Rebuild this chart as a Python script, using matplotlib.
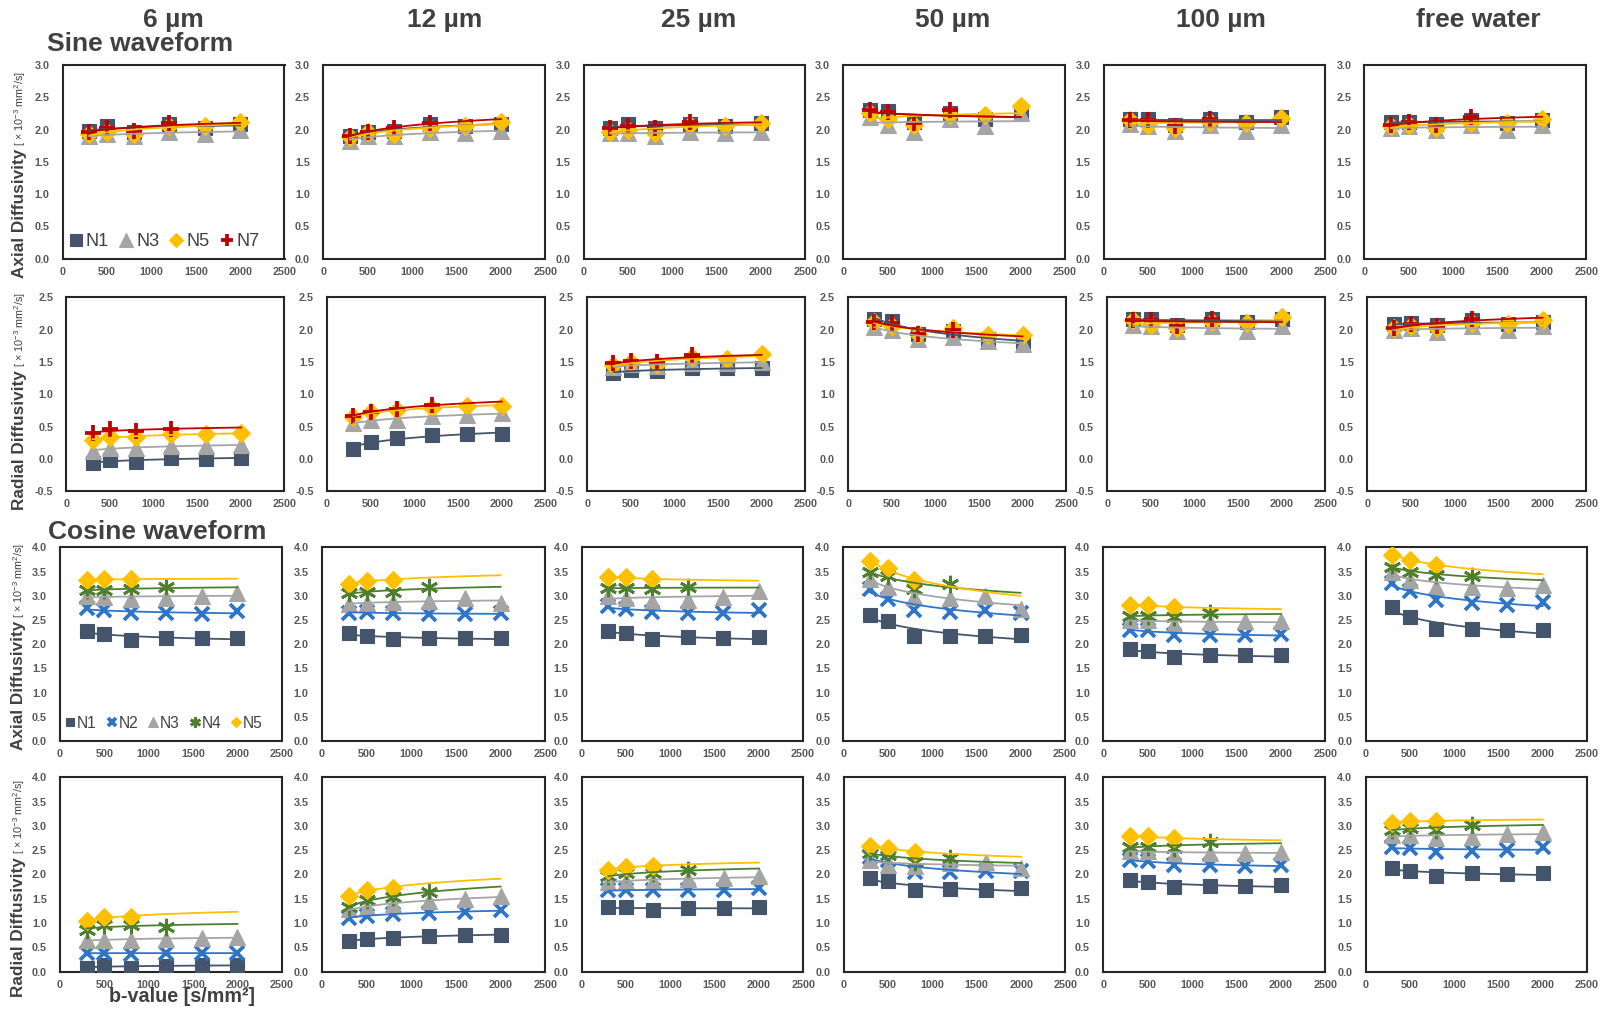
import numpy as np
import matplotlib
matplotlib.use("Agg")
import matplotlib.pyplot as plt

plt.rcParams['font.family'] = ['Liberation Sans', 'DejaVu Sans']
plt.rcParams['mathtext.default'] = 'regular'
plt.rcParams['axes.unicode_minus'] = False

# ---------------- data ----------------
columns = ["6 µm", "12 µm", "25 µm", "50 µm", "100 µm", "free water"]
b_values = [300, 500, 800, 1200, 1600, 2000]

# Sine waveform, axial diffusivity (one row per column: 6,12,25,50,100 µm, free water)
sine_axial_N1 = [[1.98, 2.05, 1.97, 2.08, 2.03, 2.08],
                 [1.90, 1.97, 1.98, 2.08, 2.05, 2.08],
                 [2.03, 2.08, 2.02, 2.08, 2.05, 2.10],
                 [2.30, 2.28, 2.12, 2.25, 2.17, 2.25],
                 [2.17, 2.17, 2.07, 2.17, 2.12, 2.19],
                 [2.12, 2.12, 2.08, 2.15, 2.10, 2.15]]
sine_axial_N3 = [[1.90, 1.93, 1.90, 1.97, 1.93, 2.00],
                 [1.83, 1.90, 1.90, 1.97, 1.95, 1.98],
                 [1.95, 1.95, 1.90, 1.97, 1.95, 1.97],
                 [2.20, 2.07, 1.97, 2.17, 2.05, 2.25],
                 [2.08, 2.05, 1.98, 2.07, 1.98, 2.07],
                 [2.02, 2.05, 2.00, 2.07, 2.00, 2.07]]
sine_axial_N5 = [[1.93, 1.97, 1.93, 2.05, 2.05, 2.12],
                 [1.88, 1.97, 1.93, 2.03, 2.05, 2.12],
                 [1.97, 2.00, 1.95, 2.07, 2.05, 2.10],
                 [2.25, 2.17, 2.07, 2.22, 2.22, 2.36],
                 [2.15, 2.07, 2.02, 2.12, 2.10, 2.18],
                 [2.05, 2.07, 2.02, 2.10, 2.10, 2.17]]
sine_axial_N7 = [[1.97, 2.02, 1.98, 2.10],
                 [1.90, 1.97, 2.02, 2.10],
                 [2.03, 2.05, 2.02, 2.12],
                 [2.30, 2.27, 2.10, 2.30],
                 [2.15, 2.15, 2.05, 2.17],
                 [2.07, 2.12, 2.07, 2.20]]

# Sine waveform, radial diffusivity
sine_radial_N1 = [[-0.06, -0.02, -0.04, 0.01, 0.00, 0.02],
                  [0.16, 0.27, 0.33, 0.37, 0.38, 0.38],
                  [1.33, 1.38, 1.36, 1.40, 1.40, 1.40],
                  [2.16, 2.14, 1.94, 1.98, 1.86, 1.81],
                  [2.17, 2.17, 2.07, 2.17, 2.12, 2.17],
                  [2.08, 2.10, 2.07, 2.15, 2.08, 2.12]]
sine_radial_N3 = [[0.13, 0.17, 0.17, 0.20, 0.20, 0.22],
                  [0.55, 0.60, 0.61, 0.66, 0.68, 0.71],
                  [1.42, 1.47, 1.43, 1.49, 1.48, 1.50],
                  [2.04, 1.99, 1.86, 1.88, 1.83, 1.78],
                  [2.07, 2.05, 1.98, 2.05, 1.98, 2.05],
                  [2.00, 2.02, 1.97, 2.05, 2.00, 2.05]]
sine_radial_N5 = [[0.30, 0.34, 0.34, 0.38, 0.38, 0.40],
                  [0.65, 0.72, 0.76, 0.79, 0.82, 0.82],
                  [1.45, 1.50, 1.47, 1.57, 1.55, 1.62],
                  [2.12, 2.05, 1.94, 2.02, 1.92, 1.92],
                  [2.15, 2.07, 2.02, 2.12, 2.10, 2.20],
                  [2.02, 2.05, 2.02, 2.10, 2.08, 2.15]]
sine_radial_N7 = [[0.40, 0.46, 0.43, 0.47],
                  [0.67, 0.73, 0.78, 0.83],
                  [1.48, 1.52, 1.50, 1.60],
                  [2.12, 2.10, 1.94, 1.99],
                  [2.15, 2.15, 2.05, 2.17],
                  [2.02, 2.08, 2.05, 2.17]]

# Cosine waveform, axial diffusivity
cos_axial_N1 = [[2.27, 2.21, 2.09, 2.13, 2.13, 2.13],
                [2.22, 2.17, 2.10, 2.12, 2.12, 2.13],
                [2.28, 2.24, 2.10, 2.14, 2.12, 2.14],
                [2.60, 2.48, 2.17, 2.17, 2.17, 2.19],
                [1.90, 1.86, 1.74, 1.77, 1.77, 1.77],
                [2.76, 2.56, 2.32, 2.32, 2.29, 2.29]]
cos_axial_N2 = [[2.74, 2.70, 2.64, 2.64, 2.62, 2.69],
                [2.65, 2.67, 2.64, 2.62, 2.62, 2.64],
                [2.78, 2.72, 2.66, 2.64, 2.64, 2.70],
                [3.14, 2.93, 2.71, 2.66, 2.71, 2.64],
                [2.30, 2.30, 2.19, 2.19, 2.19, 2.21],
                [3.26, 3.09, 2.92, 2.85, 2.81, 2.88]]
cos_axial_N3 = [[3.00, 2.98, 2.93, 2.95, 3.00, 3.05],
                [2.83, 2.84, 2.88, 2.90, 2.95, 2.84],
                [2.99, 2.95, 2.90, 2.92, 2.97, 3.10],
                [3.34, 3.18, 2.97, 2.95, 3.00, 2.72],
                [2.50, 2.50, 2.42, 2.45, 2.47, 2.47],
                [3.50, 3.33, 3.18, 3.18, 3.16, 3.23]]
cos_axial_N4 = [[3.12, 3.12, 3.13, 3.17],
                [3.05, 3.08, 3.08, 3.17],
                [3.16, 3.16, 3.14, 3.18],
                [3.50, 3.41, 3.14, 3.25],
                [2.59, 2.59, 2.56, 2.64],
                [3.60, 3.50, 3.43, 3.41]]
cos_axial_N5 = [[3.33, 3.34, 3.34],
                [3.24, 3.31, 3.33],
                [3.38, 3.38, 3.34],
                [3.71, 3.57, 3.33],
                [2.81, 2.81, 2.76],
                [3.85, 3.74, 3.64]]

# Cosine waveform, radial diffusivity
cos_radial_N1 = [[0.08, 0.13, 0.08, 0.11, 0.13, 0.13],
                 [0.63, 0.66, 0.70, 0.73, 0.75, 0.75],
                 [1.32, 1.32, 1.27, 1.30, 1.30, 1.32],
                 [1.92, 1.87, 1.68, 1.69, 1.68, 1.72],
                 [1.89, 1.85, 1.75, 1.76, 1.76, 1.78],
                 [2.13, 2.08, 1.96, 2.02, 2.01, 2.02]]
cos_radial_N2 = [[0.38, 0.38, 0.37, 0.38, 0.38, 0.38],
                 [1.11, 1.15, 1.18, 1.21, 1.23, 1.26],
                 [1.67, 1.68, 1.67, 1.68, 1.68, 1.72],
                 [2.35, 2.30, 2.04, 2.04, 2.06, 2.08],
                 [2.30, 2.28, 2.20, 2.20, 2.17, 2.20],
                 [2.57, 2.54, 2.47, 2.49, 2.50, 2.56]]
cos_radial_N3 = [[0.65, 0.65, 0.65, 0.66, 0.70, 0.71],
                 [1.28, 1.33, 1.39, 1.46, 1.50, 1.55],
                 [1.85, 1.87, 1.87, 1.90, 1.92, 1.97],
                 [2.30, 2.20, 2.17, 2.23, 2.26, 2.13],
                 [2.49, 2.49, 2.40, 2.44, 2.45, 2.47],
                 [2.81, 2.81, 2.74, 2.78, 2.83, 2.88]]
cos_radial_N4 = [[0.85, 0.96, 0.96, 0.92],
                 [1.33, 1.47, 1.54, 1.64],
                 [1.96, 2.02, 2.02, 2.09],
                 [2.44, 2.40, 2.26, 2.33],
                 [2.57, 2.57, 2.54, 2.66],
                 [2.92, 2.95, 2.92, 3.02]]
cos_radial_N5 = [[1.04, 1.13, 1.13],
                 [1.55, 1.68, 1.73],
                 [2.10, 2.16, 2.17],
                 [2.59, 2.54, 2.47],
                 [2.79, 2.79, 2.74],
                 [3.06, 3.11, 3.09]]

x_ticks = [0, 500, 1000, 1500, 2000, 2500]
row_yticks = [np.arange(0, 3.01, 0.5), np.arange(-0.5, 2.51, 0.5),
              np.arange(0, 4.01, 0.5), np.arange(0, 4.01, 0.5)]

# ---------------- styles ----------------
STY = {
    'N1': dict(marker='s', color='#44546A', ms=10, mew=0.8),
    'N2': dict(marker='x', color='#2E75C8', ms=10, mew=2.7),
    'N3': dict(marker='^', color='#A5A5A5', ms=12, mew=0.8),
    'N4': dict(marker=(6, 2, 0), color='#4E7F2E', ms=12.5, mew=2.0),
    'N5': dict(marker='D', color='#FFC000', ms=9, mew=0.8),
    'N7': dict(marker='+', color='#C00000', ms=11.5, mew=2.7),
}
TXT = '#404040'
TICK = '#595959'

W, H = 1608, 1015
fig = plt.figure(figsize=(W / 100, H / 100), dpi=100)

row_tb = [(65, 258.7), (297.3, 491.3), (547.3, 741), (777.3, 971.5)]
row_lr = [
    [(62.8, 284.5), (323.3, 545.4), (583.7, 805.2), (843.4, 1065.1), (1103.7, 1325.5), (1364.5, 1586.5)],
    [(66.4, 284.5), (327.1, 545.4), (587.2, 805.2), (848.2, 1066.2), (1107.2, 1325.5), (1367.2, 1586.5)],
    [(60, 281.8), (321.8, 545.4), (581.7, 802.7), (843.4, 1064.8), (1103.3, 1325.3), (1365.6, 1587)],
    [(60, 281.8), (321.8, 545.4), (581.7, 803.4), (843.7, 1065.5), (1103.3, 1325.3), (1365.6, 1587)],
]

rows = [
    [('N1', sine_axial_N1), ('N3', sine_axial_N3), ('N5', sine_axial_N5), ('N7', sine_axial_N7)],
    [('N1', sine_radial_N1), ('N3', sine_radial_N3), ('N5', sine_radial_N5), ('N7', sine_radial_N7)],
    [('N1', cos_axial_N1), ('N2', cos_axial_N2), ('N3', cos_axial_N3), ('N4', cos_axial_N4), ('N5', cos_axial_N5)],
    [('N1', cos_radial_N1), ('N2', cos_radial_N2), ('N3', cos_radial_N3), ('N4', cos_radial_N4), ('N5', cos_radial_N5)],
]

axes_grid = []
for r in range(4):
    t, b = row_tb[r]
    yt = row_yticks[r]
    row_axes = []
    for c in range(6):
        l, rr = row_lr[r][c]
        ax = fig.add_axes([l / W, 1 - b / H, (rr - l) / W, (b - t) / H])
        for name, arr in rows[r]:
            st = STY[name]
            y = np.array(arr[c], dtype=float)
            x = np.array(b_values[:len(y)], dtype=float)
            ax.plot(x, y, ls='none', marker=st['marker'], ms=st['ms'], mew=st['mew'],
                    mfc=st['color'], mec=st['color'], label=name, zorder=3)
        for name, arr in rows[r]:
            st = STY[name]
            y = np.array(arr[c], dtype=float)
            x = np.array(b_values[:len(y)], dtype=float)
            a1, a0 = np.polyfit(np.log(x), y, 1)
            xf = np.linspace(b_values[0], b_values[-1], 120)
            ax.plot(xf, a1 * np.log(xf) + a0, color=st['color'], lw=1.3, zorder=4)
        ax.set_xlim(0, 2500)
        ax.set_ylim(yt[0], yt[-1])
        ax.set_xticks(x_ticks)
        ax.set_xticklabels([str(v) for v in x_ticks])
        ax.set_yticks(yt)
        ax.set_yticklabels(['%.1f' % v for v in yt])
        ax.tick_params(length=0, labelsize=7.8, labelcolor=TICK)
        ax.tick_params(axis='y', pad=9.5)
        ax.tick_params(axis='x', pad=5.8)
        for lab in ax.get_xticklabels() + ax.get_yticklabels():
            lab.set_fontweight('bold')
        for sp in ax.spines.values():
            sp.set_linewidth(1.5)
            sp.set_color('#262626')
        row_axes.append(ax)
    axes_grid.append(row_axes)

# legends
leg = axes_grid[0][0].legend(loc='center left', bbox_to_anchor=(0.034, 0.088), ncol=4,
                             frameon=False, fontsize=13.1, handlelength=0.65, handletextpad=0.21,
                             columnspacing=0.62, markerscale=0.8, borderpad=0,
                             borderaxespad=0, numpoints=1)
for tx in leg.get_texts():
    tx.set_color(TXT)
leg2 = axes_grid[2][0].legend(loc='center left', bbox_to_anchor=(0.026, 0.091), ncol=5,
                              frameon=False, fontsize=11.2, handlelength=0.6, handletextpad=0.13,
                              columnspacing=0.67, markerscale=0.62, borderpad=0,
                              borderaxespad=0, numpoints=1)
for tx in leg2.get_texts():
    tx.set_color(TXT)

# column titles
col_x = [173.7, 445, 698.4, 952.5, 1221.3, 1478.2]
for cx, name in zip(col_x, columns):
    fig.text(cx / W, 1 - 20 / H, name, ha='center', va='center', fontsize=19,
             fontweight='bold', color=TXT)

fig.text(140.2 / W, 1 - 44.3 / H, 'Sine waveform', ha='center', va='center', fontsize=19,
         fontweight='bold', color=TXT)
fig.text(157 / W, 1 - 531.7 / H, 'Cosine waveform', ha='center', va='center', fontsize=19,
         fontweight='bold', color=TXT)
fig.text(182 / W, 1 - 996 / H, 'b-value [s/mm²]', ha='center', va='center', fontsize=14.2,
         fontweight='bold', color=TXT)

# y labels (two parts)
ylabels = [('Axial Diffusivity', 278.3, 24.0), ('Radial Diffusivity', 510, 24.3),
           ('Axial Diffusivity', 750, 23.2), ('Radial Diffusivity', 997, 23.2)]
fig.canvas.draw()
renderer = fig.canvas.get_renderer()
for txt, ybot, xb in ylabels:
    t1 = fig.text(xb / W, 1 - ybot / H, txt, rotation=90, rotation_mode='anchor',
                  ha='left', va='baseline', fontsize=12.3, fontweight='bold', color=TXT)
    bb = t1.get_window_extent(renderer=renderer)
    top_px = bb.y1
    fig.text(xb / W, (top_px + 3) / H, '[ × 10$^{-3}$ mm$^{2}$/s]', rotation=90,
             rotation_mode='anchor', ha='left', va='baseline', fontsize=7.8, color=TXT)

fig.savefig('out.png', dpi=100, facecolor='white')
